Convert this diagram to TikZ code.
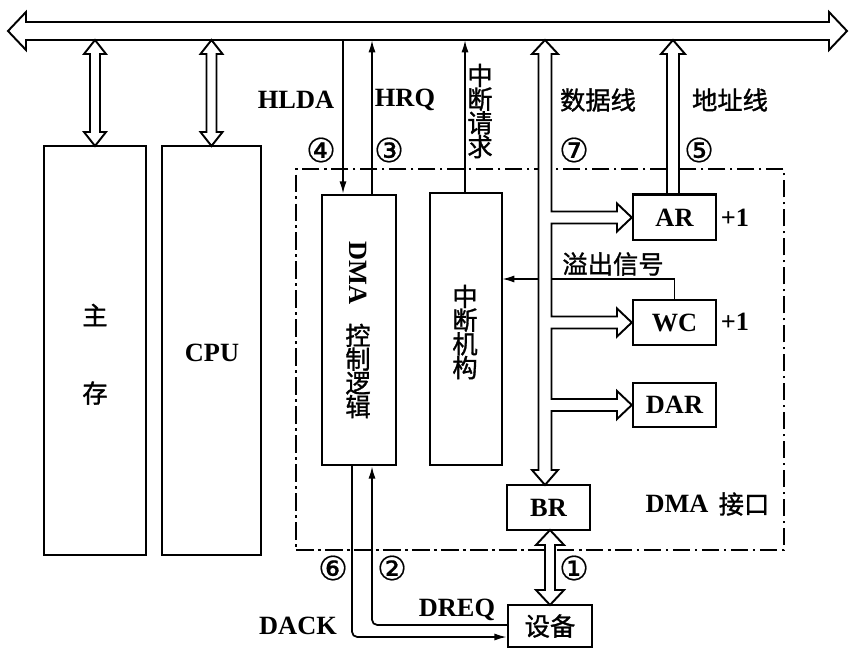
\documentclass[tikz,border=0pt]{standalone}
\usepackage{fontspec}
\setmainfont{Liberation Serif}
\newfontfamily\cjk{Noto Sans CJK SC}[FakeBold=1.2]
\newfontfamily\circfont{DejaVu Sans}[FakeBold=0.4]
\usetikzlibrary{arrows.meta,calc}
\def\pxu{0.02cm}
% vertical hollow double arrow: x, ytop, ybottom, shaft half, head half, head length
\newcommand\dblv[6]{\draw[hollow] (#1,#2) -- (#1+#5,#2+#6) -- (#1+#4,#2+#6) -- (#1+#4,#3-#6) -- (#1+#5,#3-#6) -- (#1,#3) -- (#1-#5,#3-#6) -- (#1-#4,#3-#6) -- (#1-#4,#2+#6) -- (#1-#5,#2+#6) -- cycle;}
\begin{document}
\begin{tikzpicture}[x=0.02cm,y=-0.02cm, line width=1pt,
  box/.style={draw, line width=1.4pt, inner sep=0pt, fill=white},
  lbl/.style={inner sep=0pt, font=\fontsize{15}{16}\selectfont\bfseries},
  zh/.style={inner sep=0pt, font=\cjk\fontsize{14.4}{15}\selectfont},
  num/.style={inner sep=0pt, font=\circfont\fontsize{19}{20}\selectfont},
  hollow/.style={draw, fill=white, line width=1.1pt, line join=miter},
  sig/.style={line width=1pt, -{Latex[length=7pt,width=4pt]}},
  dashdot/.style={draw, line width=1.3pt, dash pattern=on 10pt off 2.5pt on 1.5pt off 2.5pt}]
\useasboundingbox (0,0) rectangle (851,652);

% system bus
\draw[hollow] (8,31) -- (26,12) -- (26,22) -- (829,22) -- (829,12) -- (847,31) -- (829,50) -- (829,40) -- (26,40) -- (26,50) -- cycle;

% DMA interface frame
\node[dashdot, minimum width=488*\pxu, minimum height=381*\pxu, inner sep=0pt] (iface) at (540,359.5) {};

% boxes
\node[box, minimum width=102*\pxu, minimum height=409*\pxu] (mem) at (95,350.5) {};
\node[box, minimum width=99*\pxu, minimum height=409*\pxu] (cpu) at (211.5,350.5) {};
\node[box, minimum width=74*\pxu, minimum height=270*\pxu] (dma) at (359,330) {};
\node[box, minimum width=72*\pxu, minimum height=272*\pxu] (intr) at (466,329) {};

% bus connections of memory and CPU
\dblv{95}{40}{146}{5}{11}{14}
\dblv{211.5}{40}{146}{5}{11}{14}

% control signals
\coordinate (hlda) at (343,40);
\coordinate (hrq) at (372,40);
\coordinate (irq) at (465,40);
\draw[sig] (hlda) -- (hlda |- dma.north);
\draw[sig] (hrq |- dma.north) -- (hrq);
\draw[sig] (irq |- intr.north) -- (irq);

% registers
\node[box, minimum width=83*\pxu, minimum height=45*\pxu] (ar) at (674.5,217.5) {};
\node[box, minimum width=83*\pxu, minimum height=45*\pxu] (wc) at (674.5,322.5) {};
\node[box, minimum width=83*\pxu, minimum height=44*\pxu] (dar) at (674.5,405) {};
\node[box, minimum width=83*\pxu, minimum height=45*\pxu] (br) at (548.5,507.5) {};
\node[box, minimum width=84*\pxu, minimum height=42*\pxu] (dev) at (550,626) {};

% overflow signal
\coordinate (ov) at (502,279);
\draw[sig] (wc.north) |- (ov);

% data bus with branches
\draw[hollow] (545,40) -- (558,54) -- (551.5,54)
  -- (551.5,211.5) -- (617,211.5) -- (617,203.5) -- (ar.west) -- (617,231.5) -- (617,223.5) -- (551.5,223.5)
  -- (551.5,316.5) -- (617,316.5) -- (617,308.5) -- (wc.west) -- (617,336.5) -- (617,328.5) -- (551.5,328.5)
  -- (551.5,399) -- (617,399) -- (617,391) -- (dar.west) -- (617,419) -- (617,411) -- (551.5,411)
  -- (551.5,470) -- (558,470) -- (545,485) -- (532,470) -- (538.5,470) -- (538.5,54) -- (532,54) -- cycle;

% address bus
\draw[hollow] (673,40) -- (685,54) -- (679,54) -- (679,195) -- (667,195) -- (667,54) -- (661,54) -- cycle;
\draw[line width=1.4pt] (ar.north west) -- (ar.north east);

% BR <-> device
\dblv{550}{530}{605}{5}{14}{15}

% DACK / DREQ
\coordinate (dk) at (352,637);
\coordinate (dq) at (372,625);
\draw[sig, rounded corners=3pt] (dma.south -| dk) |- (dev.west |- dk);
\draw[sig, rounded corners=3pt] (dev.west |- dq) -| (dma.south -| dq);

% texts
\node[zh] (tmem1) at (95,315) {主};
\node[zh] (tmem2) at (95,393) {存};
\node[lbl] (tcpu) at (212,353) {CPU};
\node[lbl, rotate=-90] (tdma) at (358,273) {DMA};
\node[zh, align=center] (tdma2) at (358,371) {控\\[-1.5pt]制\\[-1.5pt]逻\\[-1.5pt]辑};
\node[zh, align=center] (tintr) at (465,332) {中\\[-1.5pt]断\\[-1.5pt]机\\[-1.5pt]构};
\node[zh, align=center] (tirq) at (480,111) {中\\[-1.5pt]断\\[-1.5pt]请\\[-1.5pt]求};
\node[lbl] (thlda) at (296,100) {HLDA};
\node[lbl] (thrq) at (405,100) {HRQ};
\node[zh] (tdata) at (598,100) {数据线};
\node[zh] (taddr) at (730,100) {地址线};
\node[num] (n4) at (321,150) {④};
\node[num] (n3) at (389,150) {③};
\node[num] (n7) at (574,150) {⑦};
\node[num] (n5) at (699,150) {⑤};
\node[lbl] (tar) at (ar) {AR};
\node[lbl] (twc) at (wc) {WC};
\node[lbl] (tdar) at (dar) {DAR};
\node[lbl] (tbr) at (br) {BR};
\node[zh] (tdev) at (dev) {设备};
\node[lbl] (p1) at (735,218) {+1};
\node[lbl] (p2) at (735,322) {+1};
\node[zh] (tov) at (613,264) {溢出信号};
\node[lbl] (tif) at (677,504) {DMA};
\node[zh] (tif2) at (744,504) {接口};
\node[num] (n6) at (333,568) {⑥};
\node[num] (n2) at (392,568) {②};
\node[num] (n1) at (574,568) {①};
\node[lbl] (tdack) at (298,626) {DACK};
\node[lbl] (tdreq) at (457,610) {DREQ};
\end{tikzpicture}
\end{document}
